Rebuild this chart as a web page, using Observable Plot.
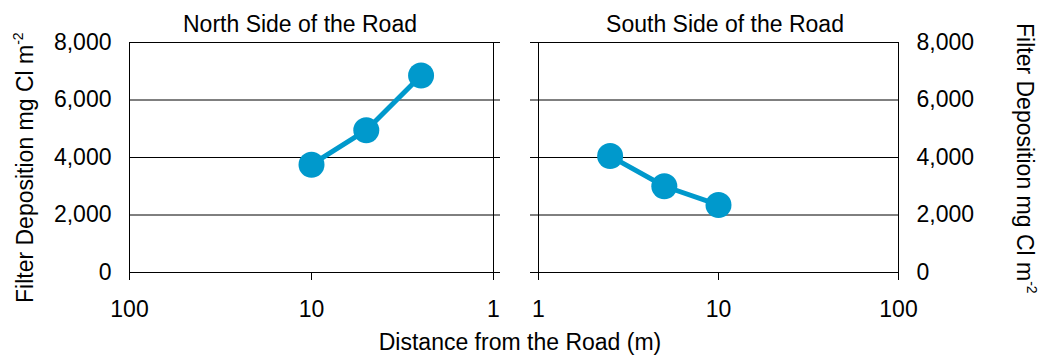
<!DOCTYPE html>
<html>
<head>
<meta charset="utf-8">
<script src="https://cdn.jsdelivr.net/npm/d3@7"></script>
<script src="https://cdn.jsdelivr.net/npm/@observablehq/plot@0.6"></script>
<style>
  html, body { margin: 0; padding: 0; background: #fff; }
  #chart { width: 1057px; height: 355px; }
</style>
</head>
<body>
<div id="chart"></div>
<script>
// ---- data ----
const northDistance = [10, 5, 2.5];
const northDeposition = [3750, 4950, 6850];
const southDistance = [2.5, 5, 10];
const southDeposition = [4050, 3000, 2350];
const yTicks = [0, 2000, 4000, 6000, 8000];
const xTicks = [1, 10, 100];
const northTitle = "North Side of the Road";
const southTitle = "South Side of the Road";
const xTitle = "Distance from the Road (m)";
const yTitle = "Filter Deposition mg Cl m";
const yTitleSup = "-2";

const BLUE = "#0099cc";
const FONT = "'Liberation Sans', Arial, Helvetica, sans-serif";
const FS = 23;

function panel(dist, dep, reverse, width, marginLeft, marginRight) {
  const data = dist.map((d, i) => ({distance: d, deposition: dep[i]}));
  return Plot.plot({
    width, height: 320,
    marginTop: 42, marginBottom: 48, marginLeft, marginRight,
    style: {fontFamily: FONT, fontSize: FS + "px", color: "#000", background: "transparent",
            overflow: "visible", width: width + "px", height: "320px", maxWidth: "none"},
    x: {type: "log", domain: reverse ? [100, 1] : [1, 100], ticks: xTicks,
        tickFormat: d => String(d), tickSize: 8, tickPadding: 20, label: null},
    y: {domain: [0, 8000], ticks: yTicks, tickFormat: d3.format(","), axis: reverse ? "left" : "right",
        tickSize: 0, tickPadding: 18, label: null},
    marks: [
      Plot.ruleY(yTicks, {stroke: "#000", strokeWidth: 1,
        insetRight: reverse ? -7 : 0, insetLeft: reverse ? 0 : -8}),
      Plot.frame({stroke: "#000", strokeWidth: 1}),
      Plot.line(data, {x: "distance", y: "deposition", stroke: BLUE, strokeWidth: 5}),
      Plot.dot(data, {x: "distance", y: "deposition", r: 13, fill: BLUE, stroke: "none"})
    ]
  });
}

const root = d3.select("#chart").append("svg")
  .attr("width", 1057).attr("height", 355)
  .style("font-family", FONT).style("font-size", FS + "px");

const left = panel(northDistance, northDeposition, true, 520, 129, 27);
const right = panel(southDistance, southDeposition, false, 537, 18, 159);
d3.select(left).attr("x", 0).attr("y", 0).style("height", "320px").style("width", "520px");
d3.select(right).attr("x", 520).attr("y", 0).style("height", "320px").style("width", "537px");
root.node().appendChild(left);
root.node().appendChild(right);

// panel titles
root.append("text").attr("x", 300).attr("y", 32).attr("text-anchor", "middle").text(northTitle);
root.append("text").attr("x", 725).attr("y", 32).attr("text-anchor", "middle").text(southTitle);

// x axis title
root.append("text").attr("x", 520).attr("y", 350).attr("text-anchor", "middle").text(xTitle);

// y axis titles
function yLabel(transform) {
  const t = root.append("text").attr("transform", transform).attr("text-anchor", "start");
  t.append("tspan").text(yTitle);
  t.append("tspan").attr("font-size", 14).attr("dy", -10).text(yTitleSup);
}
yLabel("translate(33,303) rotate(-90)");
yLabel("translate(1017,23) rotate(90)");
</script>
</body>
</html>
